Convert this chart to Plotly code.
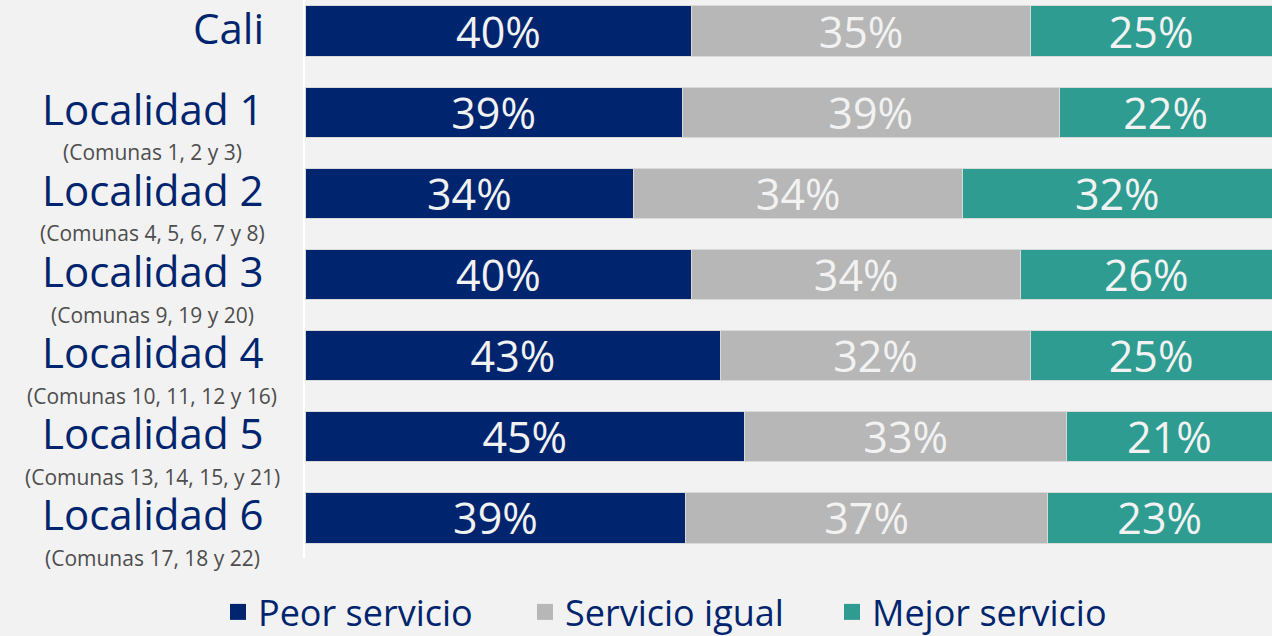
import plotly.graph_objects as go

categories = ["Cali", "Localidad 1", "Localidad 2", "Localidad 3", "Localidad 4", "Localidad 5", "Localidad 6"]
subtitles = ["", "(Comunas 1, 2 y 3)", "(Comunas 4, 5, 6, 7 y 8)", "(Comunas 9, 19 y 20)",
             "(Comunas 10, 11, 12 y 16)", "(Comunas 13, 14, 15, y 21)", "(Comunas 17, 18 y 22)"]
peor = [40, 39, 34, 40, 43, 45, 39]
igual = [35, 39, 34, 34, 32, 33, 37]
mejor = [25, 22, 32, 26, 25, 21, 23]
series_names = ["Peor servicio", "Servicio igual", "Mejor servicio"]
colors = ["#00256e", "#b7b7b7", "#2e9c91"]

FONT = "Open Sans"
fig = go.Figure()
for name, vals, col in zip(series_names, [peor, igual, mejor], colors):
    fig.add_trace(go.Bar(
        y=categories, x=vals, name=name, orientation="h",
        marker=dict(color=col, line=dict(color="#d9d9d9", width=1)),
        text=[f"{v}%" for v in vals], texttemplate="%{text}",
        textposition="inside", insidetextanchor="middle", constraintext="none",
        textfont=dict(family=FONT, size=43, color="#f2f2f2"),
        showlegend=False, hoverinfo="skip",
    ))
    fig.add_trace(go.Scatter(
        x=[None], y=[None], mode="markers", name=name,
        marker=dict(symbol="square", size=22, color=col),
        showlegend=True,
    ))

annotations = []
for cat, sub in zip(categories, subtitles):
    annotations.append(dict(
        xref="paper", yref="y", x=-0.0403, y=cat, xanchor="right", yanchor="middle",
        text=cat, showarrow=False, yshift=4,
        font=dict(family=FONT, size=42, color="#00256e"),
    ))
    if sub:
        annotations.append(dict(
            xref="paper", yref="y", x=-0.158, y=cat, xanchor="center", yanchor="middle",
            text=sub, showarrow=False, yshift=-40,
            font=dict(family=FONT, size=21, color="#4d4d4d"),
        ))

fig.update_layout(
    barmode="stack", barnorm="percent", bargap=0.38,
    width=1272, height=636,
    paper_bgcolor="#f2f2f2", plot_bgcolor="#f2f2f2",
    margin=dict(l=305, r=0, t=0, b=78),
    xaxis=dict(range=[0, 100], visible=False, fixedrange=True),
    yaxis=dict(categoryorder="array", categoryarray=categories,
               range=[6.494, -0.383], showticklabels=False, showgrid=False,
               zeroline=False, showline=True, linecolor="#ffffff", linewidth=2),
    legend=dict(orientation="h", xref="container", yref="container",
                x=218 / 1272, y=(636 - 612) / 636, xanchor="left", yanchor="middle",
                traceorder="normal", entrywidth=262, entrywidthmode="pixels",
                font=dict(family=FONT, size=36, color="#00256e"),
                itemsizing="trace", bgcolor="rgba(0,0,0,0)", tracegroupgap=0),
    annotations=annotations,
    font=dict(family=FONT),
)

fig.write_html("out.html", config={"displayModeBar": False},
               post_script="document.body.style.margin='0';")
